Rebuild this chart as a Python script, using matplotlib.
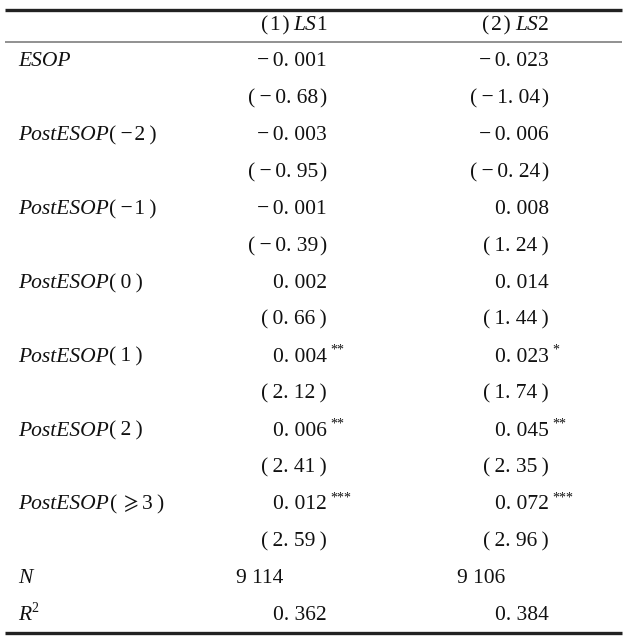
import matplotlib
matplotlib.use('Agg')
import matplotlib.pyplot as plt

plt.rcParams['font.family'] = ['Liberation Serif', 'DejaVu Serif']
plt.rcParams['mathtext.fontset'] = 'stix'

# table data
col_heads = [[('(\u200a1\u200a)\u2009', 'normal'), ('LS', 'italic'), ('1', 'normal')],
             [('(\u200a2\u200a)\u2009', 'normal'), ('LS', 'italic'), ('2', 'normal')]]
var_names = ['ESOP', 'PostESOP', 'PostESOP', 'PostESOP', 'PostESOP', 'PostESOP', 'PostESOP']
var_args = ['', '(\u2009\u2212\u200a2\u2009)', '(\u2009\u2212\u200a1\u2009)', '(\u20090\u2009)',
            '(\u20091\u2009)', '(\u20092\u2009)', '(\u2009$\\geqslant$3\u2009)']
coef1 = ['\u2212\u20060. 001', '\u2212\u20060. 003', '\u2212\u20060. 001', '0. 002', '0. 004', '0. 006', '0. 012']
tval1 = ['(\u2009\u2212\u20060. 68\u200a)', '(\u2009\u2212\u20060. 95\u200a)', '(\u2009\u2212\u20060. 39\u200a)',
         '(\u20090. 66\u2009)', '(\u20092. 12\u2009)', '(\u20092. 41\u2009)', '(\u20092. 59\u2009)']
star1 = ['', '', '', '', '**', '**', '***']
coef2 = ['\u2212\u20060. 023', '\u2212\u20060. 006', '0. 008', '0. 014', '0. 023', '0. 045', '0. 072']
tval2 = ['(\u2009\u2212\u20061. 04\u200a)', '(\u2009\u2212\u20060. 24\u200a)', '(\u20091. 24\u2009)',
         '(\u20091. 44\u2009)', '(\u20091. 74\u2009)', '(\u20092. 35\u2009)', '(\u20092. 96\u2009)']
star2 = ['', '', '', '', '*', '**', '***']
n_obs = ['9 114', '9 106']
r2 = ['0. 362', '0. 384']

W, H = 627, 636
fig = plt.figure(figsize=(W / 100, H / 100), dpi=100)
ax = fig.add_axes([0, 0, 1, 1])
ax.set_xlim(0, W)
ax.set_ylim(H, 0)
ax.axis('off')
renderer = fig.canvas.get_renderer()

fs = 15.5
x_lab = 18
x_c = [327, 549]
y0, dy = 62, 36.9
col = '#111111'


def draw_pieces(x, y, pieces, right=False):
    # draw text pieces one after another, measuring each width
    arts = []
    for s, style in pieces:
        t = ax.text(0, y, s, ha='left', va='center', fontsize=fs, style=style, color=col)
        arts.append(t)
    widths = []
    for t in arts:
        bb = t.get_window_extent(renderer)
        widths.append(bb.width)
    start = x - sum(widths) if right else x
    for t, w in zip(arts, widths):
        t.set_x(start)
        start += w


# rules
ax.plot([5, 622], [10, 10], color='#222222', lw=2.4, solid_capstyle='butt')
ax.plot([5, 622], [42, 42], color='#888888', lw=1.3, solid_capstyle='butt')
ax.plot([5, 622], [633, 633], color='#222222', lw=2.4, solid_capstyle='butt')

for j, h in enumerate(col_heads):
    draw_pieces(x_c[j], 26, h, right=True)

cols = [(coef1, tval1, star1), (coef2, tval2, star2)]
for i in range(len(var_names)):
    y = y0 + 2 * i * dy
    pieces = [(var_names[i], 'italic')]
    if var_args[i]:
        pieces.append((var_args[i], 'normal'))
    draw_pieces(x_lab, y, pieces)
    for j, (c, t, s) in enumerate(cols):
        ax.text(x_c[j], y, c[i], ha='right', va='center', fontsize=fs, color=col)
        if s[i]:
            ax.text(x_c[j] + 3, y - 7, s[i], ha='left', va='center', fontsize=10, color=col)
        ax.text(x_c[j], y + dy, t[i], ha='right', va='center', fontsize=fs, color=col)

y_n = y0 + 14 * dy
ax.text(x_lab, y_n, 'N', style='italic', ha='left', va='center', fontsize=fs, color=col)
ax.text(x_lab, y_n + dy, 'R', style='italic', ha='left', va='center', fontsize=fs, color=col)
ax.text(x_lab + 13, y_n + dy - 7, '2', ha='left', va='center', fontsize=10, color=col)
for j in range(2):
    ax.text(x_c[j] - 44, y_n, n_obs[j], ha='right', va='center', fontsize=fs, color=col)
    ax.text(x_c[j], y_n + dy, r2[j], ha='right', va='center', fontsize=fs, color=col)

fig.savefig('out.png', dpi=100, facecolor='white')
